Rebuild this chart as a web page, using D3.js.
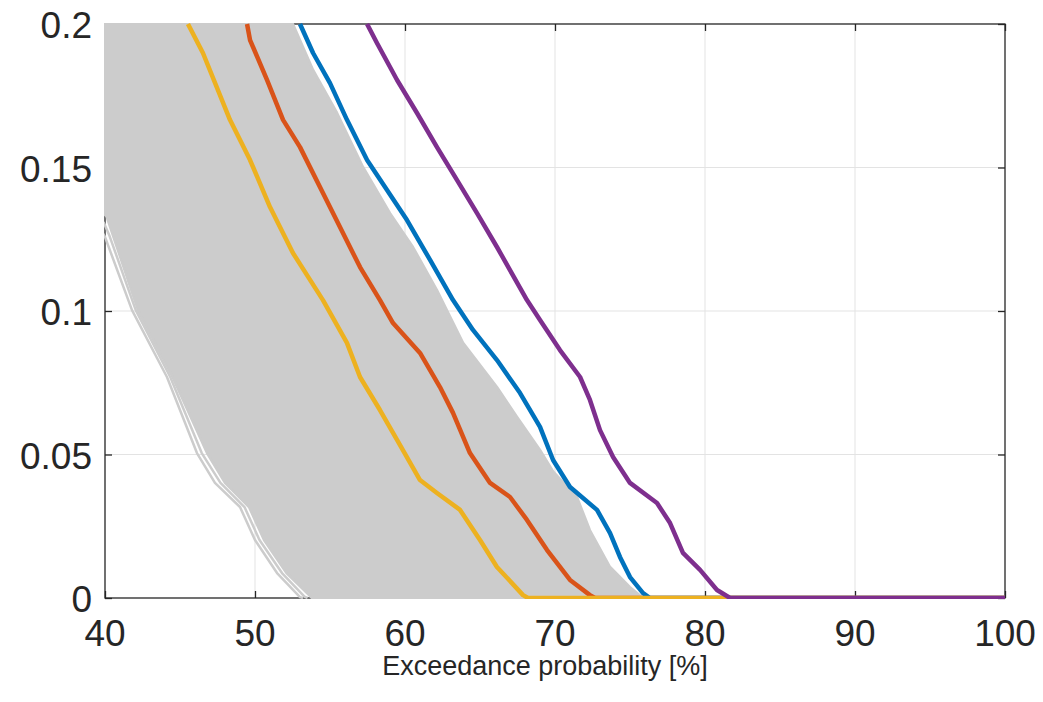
<!DOCTYPE html>
<html>
<head>
<meta charset="utf-8">
<script src="https://cdn.jsdelivr.net/npm/d3@7"></script>
<style>
  body { margin: 0; background: #fff; }
  text { font-family: "Liberation Sans", Arial, sans-serif; fill: #262626; }
</style>
</head>
<body>
<script>
// x ticks and y ticks
var xTicks = [40, 50, 60, 70, 80, 90, 100];
var yTicks = [0, 0.05, 0.1, 0.15, 0.2];

// gray ensemble envelope (right edge top->bottom, left edge bottom->top)
var bandRight = [[52.53,0.2],[53.87,0.184],[55.47,0.169],[57.2,0.1502],[59.0,0.1341],[60.53,0.1223],[62.13,0.1073],
  [63.87,0.0889],[66.13,0.0735],[67.47,0.0631],[69.0,0.0516],[69.87,0.0441],[71.47,0.0351],[72.33,0.0236],
  [73.67,0.0108],[75.0,0.0038],[75.87,0]];
var bandLeft = [[53.8,0],[53.5,0.0015],[52.1,0.0087],[50.6,0.0202],[49.6,0.0317],[48.0,0.0401],[46.8,0.0505],
  [44.5,0.077],[42.2,0.1003],[40.1,0.133],[39.5,0.136],[39.5,0.2]];
// individual gray members left of the band
var grayA = [[39.7,0.1285],[40,0.1258],[41.8,0.1003],[44.13,0.077],[46.13,0.0505],[47.33,0.0401],[49.0,0.0317],
  [50.0,0.0202],[51.47,0.0087],[53.0,0.0003],[53.2,0]];
var grayB = [[39.9,0.131],[40.3,0.1262],[42.05,0.1003],[44.35,0.077],[46.45,0.0505],[47.7,0.0401],[49.3,0.0317],
  [50.3,0.0202],[51.8,0.0087],[53.3,0.0005],[53.5,0]];

// coloured curves
var blue = [[53.0,0.2],[53.87,0.1899],[55.0,0.1794],[56.13,0.1666],[57.47,0.1526],[58.8,0.1422],[60.13,0.1317],
  [61.67,0.1178],[63.2,0.1038],[64.53,0.0934],[66.13,0.0829],[67.67,0.0714],[69.0,0.0596],[69.87,0.0481],
  [71.0,0.0387],[72.8,0.0307],[73.67,0.0226],[74.33,0.0143],[75.0,0.0073],[75.87,0.0017],[76.33,0],[100,0]];
var red = [[49.47,0.2],[49.67,0.1944],[50.8,0.1805],[51.87,0.1666],[53.0,0.1571],[54.53,0.1411],[56.33,0.1223],
  [57.0,0.1153],[58.33,0.1038],[59.2,0.0958],[61.0,0.0854],[62.33,0.0735],[63.2,0.0645],[64.33,0.0505],
  [65.67,0.0401],[67.0,0.0352],[68.13,0.0272],[69.47,0.0167],[71.0,0.0063],[72.33,0.001],[72.67,0],[100,0]];
var yellow = [[45.53,0.2],[46.53,0.1899],[48.33,0.1666],[49.67,0.1526],[51.0,0.1362],[52.53,0.1202],[54.53,0.1038],
  [56.13,0.0889],[57.0,0.077],[58.33,0.0655],[59.47,0.0551],[61.0,0.0411],[62.13,0.0366],[63.67,0.0307],
  [65.0,0.0202],[66.13,0.0108],[67.87,0.001],[68.2,0],[100,0]];
var purple = [[57.47,0.2],[58.13,0.1934],[59.0,0.185],[59.47,0.1805],[60.8,0.169],[62.13,0.1571],[63.47,0.1456],
  [64.8,0.1341],[66.13,0.1223],[68.13,0.1038],[69.0,0.0969],[70.33,0.0864],[71.67,0.077],[72.33,0.069],
  [73.0,0.0585],[73.87,0.0491],[75.0,0.0401],[76.8,0.0331],[77.67,0.0261],[78.53,0.0157],[79.67,0.0098],
  [80.8,0.0028],[81.67,0],[100,0]];

var W = 1043, H = 702;
var margin = {left: 105, right: 38, top: 24, bottom: 104};

var svg = d3.select("body").append("svg").attr("width", W).attr("height", H);

var x = d3.scaleLinear().domain([40, 100]).range([margin.left, W - margin.right]);
var y = d3.scaleLinear().domain([0, 0.2]).range([H - margin.bottom, margin.top]);

// grid
svg.append("g").selectAll("line").data(xTicks.slice(1, -1)).enter().append("line")
  .attr("x1", function(d) { return x(d); }).attr("x2", function(d) { return x(d); })
  .attr("y1", y(0)).attr("y2", y(0.2))
  .style("stroke", "#e3e3e3").style("stroke-width", 1);
svg.append("g").selectAll("line").data(yTicks.slice(1, -1)).enter().append("line")
  .attr("y1", function(d) { return y(d); }).attr("y2", function(d) { return y(d); })
  .attr("x1", x(40)).attr("x2", x(100))
  .style("stroke", "#e3e3e3").style("stroke-width", 1);

// box + ticks
svg.append("rect").attr("x", x(40)).attr("y", y(0.2))
  .attr("width", x(100) - x(40)).attr("height", y(0) - y(0.2))
  .style("fill", "none").style("stroke", "#262626").style("stroke-width", 1.3);

var xAxisB = d3.axisBottom(x).tickValues(xTicks).tickSize(-7).tickFormat("");
var xAxisT = d3.axisTop(x).tickValues(xTicks).tickSize(-7).tickFormat("");
var yAxisL = d3.axisLeft(y).tickValues(yTicks).tickSize(-7).tickFormat("");
var yAxisR = d3.axisRight(y).tickValues(yTicks).tickSize(-7).tickFormat("");
[[xAxisB, "translate(0," + y(0) + ")"], [xAxisT, "translate(0," + y(0.2) + ")"],
 [yAxisL, "translate(" + x(40) + ",0)"], [yAxisR, "translate(" + x(100) + ",0)"]].forEach(function(a) {
  var g = svg.append("g").attr("transform", a[1]).call(a[0]);
  g.select(".domain").remove();
  g.selectAll("line").style("stroke", "#262626").style("stroke-width", 1.3);
});

// tick labels
svg.append("g").selectAll("text").data(xTicks).enter().append("text")
  .attr("x", function(d) { return x(d); }).attr("y", y(0) + 48)
  .attr("text-anchor", "middle").style("font-size", "37px")
  .text(function(d) { return d; });
svg.append("g").selectAll("text").data(yTicks).enter().append("text")
  .attr("x", x(40) - 13).attr("y", function(d) { return y(d) + 14; })
  .attr("text-anchor", "end").style("font-size", "37px")
  .text(function(d) { return d; });

svg.append("text").attr("x", 545).attr("y", 675)
  .attr("text-anchor", "middle").style("font-size", "27px")
  .text("Exceedance probability [%]");

// data
svg.append("clipPath").attr("id", "clip").append("rect")
  .attr("x", x(40) - 1).attr("y", y(0.2) - 1)
  .attr("width", x(100) - x(40) + 2).attr("height", y(0) - y(0.2) + 2);
var plot = svg.append("g").attr("clip-path", "url(#clip)");

var line = d3.line().x(function(d) { return x(d[0]); }).y(function(d) { return y(d[1]); });

plot.append("path").datum(bandRight.concat(bandLeft))
  .attr("d", function(d) { return line(d) + "Z"; })
  .style("fill", "#cccccc").style("stroke", "#cccccc").style("stroke-width", 2.5)
  .style("stroke-linejoin", "round");
[grayA, grayB].forEach(function(g) {
  plot.append("path").datum(g).attr("d", line)
    .style("fill", "none").style("stroke", "#cccccc").style("stroke-width", 2.5)
    .style("stroke-linejoin", "round");
});

var curves = [[red, "#d95319"], [blue, "#0072bd"], [yellow, "#edb120"], [purple, "#7e2f8e"]];
curves.forEach(function(c) {
  plot.append("path").datum(c[0]).attr("d", line)
    .style("fill", "none").style("stroke", c[1]).style("stroke-width", 4.5)
    .style("stroke-linejoin", "round");
});
</script>
</body>
</html>
